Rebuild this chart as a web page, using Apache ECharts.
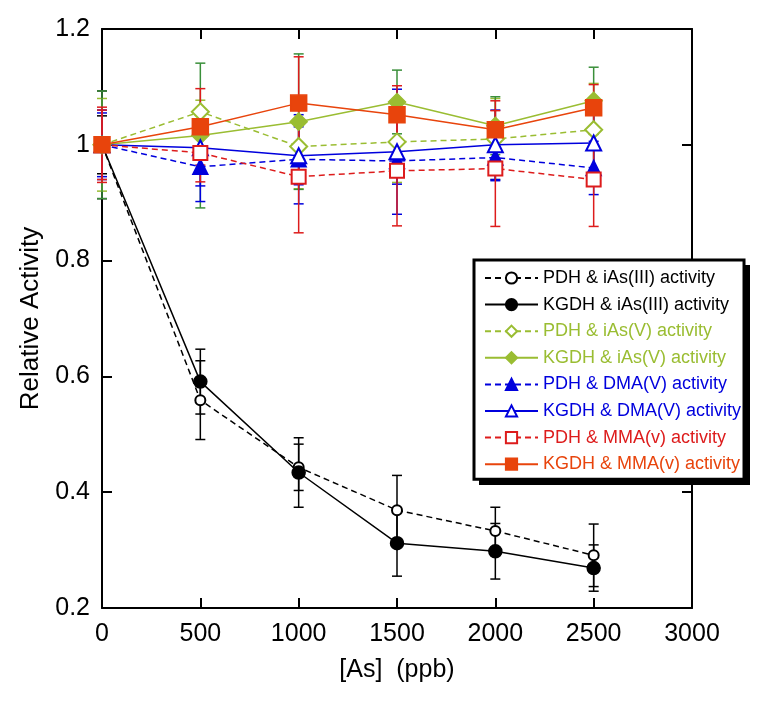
<!DOCTYPE html>
<html>
<head>
<meta charset="utf-8">
<script src="https://cdn.jsdelivr.net/npm/echarts@6/dist/echarts.min.js"></script>
<style>
html,body{margin:0;padding:0;background:#fff;}
#chart{width:760px;height:701px;}
</style>
</head>
<body>
<div id="chart"></div>
<script>
// ---- data ----
const xValues = [0, 500, 1000, 1500, 2000, 2500];
const xTicks = [0, 500, 1000, 1500, 2000, 2500, 3000];
const yTicks = [0.2, 0.4, 0.6, 0.8, 1, 1.2];

const seriesNames = [
  'PDH & iAs(III) activity',
  'KGDH & iAs(III) activity',
  'PDH & iAs(V) activity',
  'KGDH & iAs(V) activity',
  'PDH & DMA(V) activity',
  'KGDH & DMA(V) activity',
  'PDH & MMA(v) activity',
  'KGDH & MMA(v) activity'
];

const pdhIAs3     = [1.0, 0.559, 0.443, 0.369, 0.333, 0.291];
const pdhIAs3Err  = [0.05, 0.068, 0.04, 0.06, 0.041, 0.054];
const kgdhIAs3    = [1.0, 0.591, 0.434, 0.312, 0.298, 0.269];
const kgdhIAs3Err = [0.093, 0.056, 0.06, 0.057, 0.048, 0.04];
const pdhIAs5     = [1.0, 1.057, 0.997, 1.005, 1.010, 1.026];
const pdhIAs5Err  = [0.08, 0.02, 0.073, 0.07, 0.07, 0.08];
const kgdhIAs5    = [1.0, 1.016, 1.040, 1.074, 1.033, 1.076];
const kgdhIAs5Err = [0.093, 0.125, 0.117, 0.055, 0.05, 0.058];
const pdhDMA      = [1.0, 0.962, 0.975, 0.972, 0.978, 0.960];
const pdhDMAErr   = [0.06, 0.06, 0.077, 0.04, 0.04, 0.046];
const kgdhDMA     = [1.0, 0.995, 0.981, 0.988, 1.000, 1.003];
const kgdhDMAErr  = [0.055, 0.066, 0.05, 0.108, 0.06, 0.05];
const pdhMMA      = [1.0, 0.986, 0.945, 0.955, 0.959, 0.940];
const pdhMMAErr   = [0.065, 0.05, 0.097, 0.095, 0.1, 0.081];
const kgdhMMA     = [1.0, 1.031, 1.072, 1.052, 1.026, 1.064];
const kgdhMMAErr  = [0.06, 0.066, 0.08, 0.05, 0.05, 0.04];

// ---- styles ----
const BLACK = '#000000', YG = '#9ABD32', DGREEN = '#3A8F3A', BLUE = '#0000DD', RED = '#DD1C1C', ORANGE = '#E8440C';
const FONT = 'Liberation Sans, Arial, sans-serif';

const defs = [
  {vals: pdhIAs3,  err: pdhIAs3Err,  color: BLACK,  errColor: BLACK,  dash: true,  symbol: 'emptyCircle',   size: 10, text: BLACK},
  {vals: kgdhIAs3, err: kgdhIAs3Err, color: BLACK,  errColor: BLACK,  dash: false, symbol: 'circle',        size: 13, text: BLACK},
  {vals: pdhIAs5,  err: pdhIAs5Err,  color: YG,     errColor: YG,     dash: true,  symbol: 'emptyDiamond',  size: 17, text: YG},
  {vals: kgdhIAs5, err: kgdhIAs5Err, color: YG,     errColor: DGREEN, dash: false, symbol: 'diamond',       size: 17, text: YG},
  {vals: pdhDMA,   err: pdhDMAErr,   color: BLUE,   errColor: BLUE,   dash: true,  symbol: 'triangle',      size: 15, text: BLUE},
  {vals: kgdhDMA,  err: kgdhDMAErr,  color: BLUE,   errColor: BLUE,   dash: false, symbol: 'emptyTriangle', size: 15, text: BLUE},
  {vals: pdhMMA,   err: pdhMMAErr,   color: RED,    errColor: RED,    dash: true,  symbol: 'emptyRect',     size: 14, text: RED},
  {vals: kgdhMMA,  err: kgdhMMAErr,  color: ORANGE, errColor: RED,    dash: false, symbol: 'rect',          size: 16, text: ORANGE}
];

const series = [];
// error bars
defs.forEach((d, i) => {
  series.push({
    type: 'custom',
    name: 'err' + i,
    xAxisIndex: 0, yAxisIndex: 0,
    silent: true,
    z: 1,
    data: xValues.map((x, k) => [x, d.vals[k] - d.err[k], d.vals[k] + d.err[k]]),
    renderItem: function (params, api) {
      const x = api.value(0);
      const lo = api.coord([x, api.value(1)]);
      const hi = api.coord([x, api.value(2)]);
      const cap = 5;
      const st = {stroke: d.errColor, lineWidth: 1.5};
      return {
        type: 'group',
        children: [
          {type: 'line', shape: {x1: lo[0], y1: lo[1], x2: hi[0], y2: hi[1]}, style: st},
          {type: 'line', shape: {x1: lo[0] - cap, y1: lo[1], x2: lo[0] + cap, y2: lo[1]}, style: st},
          {type: 'line', shape: {x1: hi[0] - cap, y1: hi[1], x2: hi[0] + cap, y2: hi[1]}, style: st}
        ]
      };
    },
    encode: {x: 0, y: [1, 2]}
  });
});
// lines
defs.forEach((d, i) => {
  series.push({
    type: 'line',
    name: seriesNames[i],
    xAxisIndex: 0, yAxisIndex: 0,
    z: 3,
    data: xValues.map((x, k) => [x, d.vals[k]]),
    symbol: d.symbol,
    symbolSize: d.size,
    showAllSymbol: true,
    color: d.color,
    lineStyle: {color: d.color, width: 1.5, type: d.dash ? [6, 4] : 'solid'},
    itemStyle: {color: d.color, borderColor: d.color, borderWidth: 1.5},
    emphasis: {disabled: true},
    animation: false
  });
});

const chart = echarts.init(document.getElementById('chart'), null, {renderer: 'canvas'});
const axisLine = {show: true, onZero: false, lineStyle: {color: '#000', width: 2}};
const axisTick = {show: true, inside: true, length: 10, lineStyle: {color: '#000', width: 2}};

chart.setOption({
  animation: false,
  backgroundColor: '#fff',
  grid: {left: 102, right: 68, top: 29, bottom: 93, containLabel: false},
  xAxis: [
    {type: 'value', position: 'bottom', min: 0, max: 3000, interval: 500,
     axisLine, axisTick, splitLine: {show: false},
     axisLabel: {color: '#000', fontSize: 25, fontFamily: FONT, margin: 14,
                 formatter: v => String(v)},
     name: '[As]  (ppb)', nameLocation: 'middle', nameGap: 50,
     nameTextStyle: {color: '#000', fontSize: 25, fontFamily: FONT}},
    {type: 'value', position: 'top', min: 0, max: 3000, interval: 500,
     axisLine, axisTick, splitLine: {show: false}, axisLabel: {show: false}}
  ],
  yAxis: [
    {type: 'value', position: 'left', min: 0.2, max: 1.2, interval: 0.2,
     axisLine, axisTick, splitLine: {show: false},
     axisLabel: {color: '#000', fontSize: 25, fontFamily: FONT, margin: 12,
                 formatter: v => String(Math.round(v * 10) / 10)},
     name: 'Relative Activity', nameLocation: 'middle', nameGap: 58, nameRotate: 90,
     nameTextStyle: {color: '#000', fontSize: 26, fontFamily: FONT}},
    {type: 'value', position: 'right', min: 0.2, max: 1.2, interval: 0.2,
     axisLine, axisTick, splitLine: {show: false}, axisLabel: {show: false}}
  ],
  graphic: [
    {type: 'rect', z: 4, silent: true,
     shape: {x: 479, y: 265, width: 271, height: 220},
     style: {fill: '#000'}}
  ],
  legend: {
    orient: 'vertical',
    left: 474, top: 260,
    z: 6,
    padding: [9, 3, 6, 10],
    itemWidth: 53, itemHeight: 14, itemGap: 8.6,
    backgroundColor: '#fff',
    borderColor: '#000', borderWidth: 3, borderRadius: 0,
    textStyle: {fontSize: 18, fontFamily: FONT},
    selectedMode: false,
    data: seriesNames.map((n, i) => ({name: n, textStyle: {color: defs[i].text}}))
  },
  series
});
</script>
</body>
</html>
